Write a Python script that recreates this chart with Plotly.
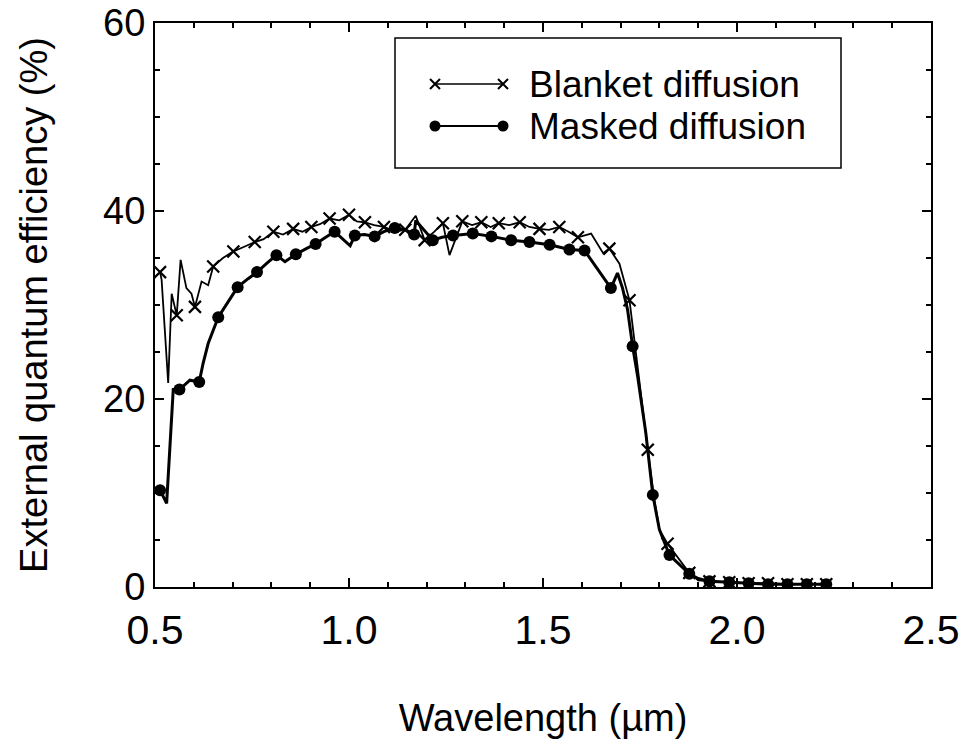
import plotly.graph_objects as go

# ---- Blanket diffusion: marker points and intermediate spectrum points ----
blanket_mark_x = [0.513, 0.556, 0.603, 0.650, 0.702, 0.757, 0.805, 0.856, 0.903, 0.950,
                  1.000, 1.041, 1.090, 1.145, 1.195, 1.242, 1.292, 1.341, 1.386, 1.440,
                  1.491, 1.542, 1.590, 1.671, 1.723, 1.770, 1.821, 1.877, 1.929, 1.980,
                  2.030, 2.080, 2.130, 2.180, 2.230]
blanket_mark_y = [33.5, 28.9, 29.8, 34.1, 35.7, 36.7, 37.8, 38.1, 38.3, 39.2,
                  39.6, 38.8, 38.3, 38.0, 36.9, 38.7, 38.9, 38.8, 38.7, 38.8,
                  38.1, 38.3, 37.2, 36.0, 30.5, 14.6, 4.6, 1.5, 0.6, 0.5,
                  0.4, 0.4, 0.3, 0.3, 0.3]
blanket_extra_x = [0.517, 0.534, 0.543, 0.566, 0.581, 0.594, 0.620, 0.637, 0.675, 0.730,
                   0.780, 0.830, 0.880, 0.925, 0.975, 1.020, 1.065, 1.120, 1.172, 1.220,
                   1.259, 1.317, 1.365, 1.413, 1.465, 1.515, 1.566, 1.624, 1.655, 1.697,
                   1.735, 1.748, 1.787, 1.800, 1.900]
blanket_extra_y = [32.7, 21.7, 31.2, 34.8, 31.8, 31.2, 32.5, 32.1, 35.0, 36.2,
                   37.0, 37.5, 37.8, 38.6, 39.0, 38.9, 38.5, 37.8, 39.5, 37.8,
                   35.3, 38.5, 38.3, 38.5, 38.3, 38.0, 37.8, 37.6, 35.5, 34.4,
                   26.3, 21.7, 9.3, 6.1, 0.7]

# ---- Masked diffusion: marker points and intermediate spectrum points ----
masked_mark_x = [0.513, 0.563, 0.614, 0.663, 0.713, 0.763, 0.813, 0.863, 0.914, 0.963,
                 1.015, 1.066, 1.118, 1.168, 1.216, 1.268, 1.319, 1.367, 1.418, 1.465,
                 1.517, 1.568, 1.607, 1.675, 1.731, 1.783, 1.826, 1.877, 1.929, 1.980,
                 2.030, 2.080, 2.130, 2.180, 2.230]
masked_mark_y = [10.3, 21.0, 21.8, 28.7, 31.9, 33.5, 35.3, 35.4, 36.5, 37.8,
                 37.4, 37.3, 38.2, 37.5, 36.9, 37.4, 37.6, 37.3, 36.9, 36.7,
                 36.4, 35.9, 35.8, 31.8, 25.6, 9.8, 3.4, 1.4, 0.6, 0.5,
                 0.4, 0.3, 0.3, 0.3, 0.3]
masked_extra_x = [0.530, 0.547, 0.590, 0.624, 0.637, 0.690, 0.740, 0.790, 0.835, 0.890,
                  0.940, 1.003, 1.040, 1.090, 1.145, 1.172, 1.240, 1.295, 1.692, 1.705,
                  1.718, 1.744, 1.765, 1.800, 1.900]
masked_extra_y = [8.9, 21.0, 22.0, 23.8, 25.9, 30.5, 32.8, 34.5, 34.6, 36.0,
                  37.2, 36.3, 37.5, 37.8, 38.0, 39.0, 37.2, 37.5, 33.4, 31.8,
                  29.5, 22.4, 16.4, 6.1, 0.9]

x_ticks = [0.5, 1.0, 1.5, 2.0, 2.5]
x_tick_text = ["0.5", "1.0", "1.5", "2.0", "2.5"]
y_ticks = [0, 20, 40, 60]


def merged(mx, my, ex, ey):
    pts = sorted(zip(mx + ex, my + ey))
    return [p[0] for p in pts], [p[1] for p in pts]


bx, by = merged(blanket_mark_x, blanket_mark_y, blanket_extra_x, blanket_extra_y)
mx, my = merged(masked_mark_x, masked_mark_y, masked_extra_x, masked_extra_y)

fig = go.Figure()

# spectra lines
fig.add_trace(go.Scatter(x=bx, y=by, mode="lines",
                         line=dict(color="black", width=1.8), showlegend=False))
fig.add_trace(go.Scatter(x=mx, y=my, mode="lines",
                         line=dict(color="black", width=3), showlegend=False))
# markers
fig.add_trace(go.Scatter(x=blanket_mark_x, y=blanket_mark_y, mode="markers",
                         marker=dict(symbol="x-thin", size=12, color="black",
                                     line=dict(color="black", width=2.2)),
                         showlegend=False))
fig.add_trace(go.Scatter(x=masked_mark_x, y=masked_mark_y, mode="markers",
                         marker=dict(symbol="circle", size=12, color="black"),
                         showlegend=False))

# ---- legend drawn in plot-area coordinates (overlay axis spanning [0, 1]) ----
L = dict(l=155, r=31, t=23, b=168)
W, H = 962 - L["l"] - L["r"], 755 - L["t"] - L["b"]


def px(x):
    return (x - L["l"]) / W


def py(y):
    return (755 - L["b"] - y) / H


leg_x0, leg_x1 = px(435), px(503)
row_y = [py(84), py(126)]
fig.add_trace(go.Scatter(x=[leg_x0, leg_x1], y=[row_y[0]] * 2, mode="lines+markers",
                         xaxis="x2", yaxis="y2", showlegend=False,
                         line=dict(color="black", width=1.5),
                         marker=dict(symbol="x-thin", size=10, color="black",
                                     line=dict(color="black", width=2))))
fig.add_trace(go.Scatter(x=[leg_x0, leg_x1], y=[row_y[1]] * 2, mode="lines+markers",
                         xaxis="x2", yaxis="y2", showlegend=False,
                         line=dict(color="black", width=2),
                         marker=dict(symbol="circle", size=11, color="black")))

fig.add_shape(type="rect", xref="x2", yref="y2",
              x0=px(395), x1=px(841), y0=py(38), y1=py(168),
              line=dict(color="black", width=1.5), fillcolor="rgba(0,0,0,0)")

font_main = "Liberation Sans, Arial, sans-serif"
for label, yy in zip(["Blanket diffusion", "Masked diffusion"], row_y):
    fig.add_annotation(x=px(527), y=yy, xref="x2", yref="y2", text=label,
                       showarrow=False, xanchor="left", yanchor="middle",
                       font=dict(family=font_main, size=37, color="black"))

fig.update_layout(
    width=962, height=755,
    margin=L,
    paper_bgcolor="white", plot_bgcolor="white",
    xaxis=dict(range=[0.5, 2.5], tickvals=x_ticks, ticktext=x_tick_text,
               ticks="inside", ticklen=9, tickwidth=1.5, tickcolor="black",
               minor=dict(dtick=0.1, ticks="inside", ticklen=5, tickcolor="black"),
               showline=True, linecolor="black", linewidth=2, mirror="allticks",
               showgrid=False, zeroline=False, ticklabelstandoff=6,
               automargin=False,
               tickfont=dict(family=font_main, size=41, color="black"),
               title=dict(text="Wavelength (\u00b5m)", standoff=52,
                          font=dict(family=font_main, size=38, color="black"))),
    yaxis=dict(range=[0, 60], tickvals=y_ticks,
               ticks="inside", ticklen=9, tickwidth=1.5, tickcolor="black",
               minor=dict(dtick=5, ticks="inside", ticklen=5, tickcolor="black"),
               showline=True, linecolor="black", linewidth=2, mirror="allticks",
               showgrid=False, zeroline=False, automargin=False,
               tickfont=dict(family=font_main, size=38, color="black"),
               title=dict(text="External quantum efficiency (%)", standoff=44,
                          font=dict(family=font_main, size=38, color="black"))),
    xaxis2=dict(range=[0, 1], overlaying="x", visible=False, domain=[0, 1]),
    yaxis2=dict(range=[0, 1], overlaying="y", visible=False, domain=[0, 1]),
)

fig.write_html("out.html")
